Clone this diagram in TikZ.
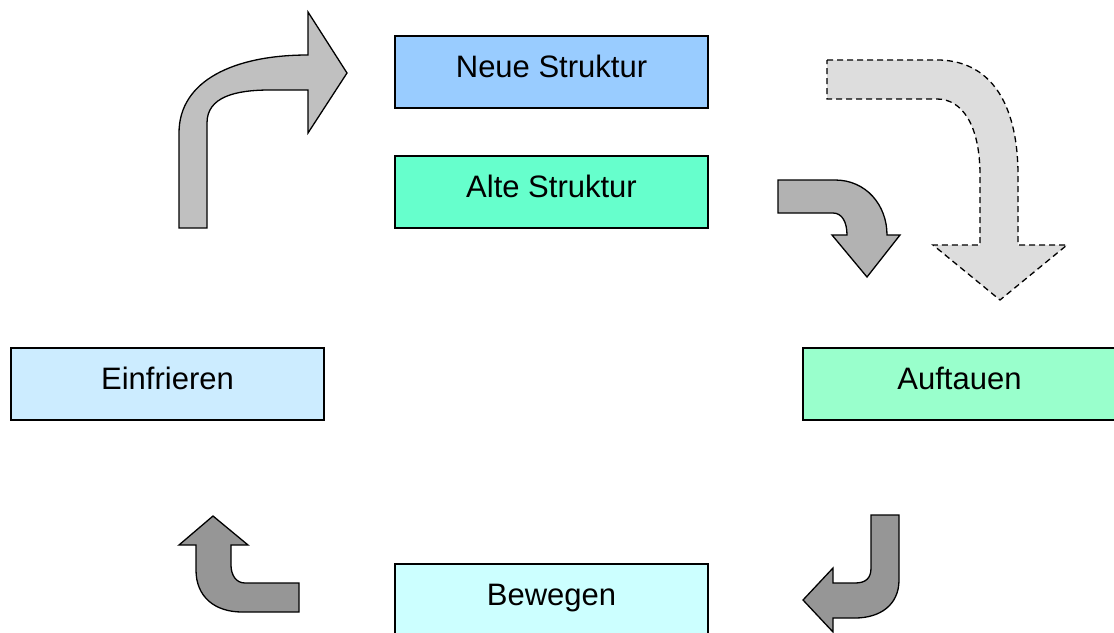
\documentclass[tikz,border=0pt]{standalone}
\usepackage{fontspec}
\setmainfont{Liberation Sans}
\definecolor{neue}{HTML}{99CCFF}
\definecolor{alte}{HTML}{66FFCC}
\definecolor{einfr}{HTML}{CCECFF}
\definecolor{auft}{HTML}{99FFCC}
\definecolor{beweg}{HTML}{CCFFFF}
\definecolor{arrowA}{HTML}{C0C0C0}
\definecolor{arrowB}{HTML}{B2B2B2}
\definecolor{arrowC}{HTML}{DDDDDD}
\definecolor{arrowD}{HTML}{969696}
\tikzset{
  phase/.style={draw=black, line width=1.3pt, minimum width=313pt, minimum height=72pt,
    inner sep=0pt, text height=22pt, text depth=12pt,
    font=\fontsize{31}{36}\selectfont},
  bent/.style={draw=black, line width=1.3pt, line join=miter},
}
\begin{document}
\begin{tikzpicture}[x=1pt, y=-1pt]
\useasboundingbox (0,0) rectangle (1114,632);
\clip (0,0) rectangle (1114,632);
\fill[white] (0,0) rectangle (1114,632);

% phase boxes
\node[phase, fill=neue]  (neue)  at (551.5,72)  {Neue Struktur};
\node[phase, fill=alte]  (alte)  at (551.5,192) {Alte Struktur};
\node[phase, fill=einfr] (einfr) at (167.5,384) {Einfrieren};
\node[phase, fill=auft]  (auft)  at (959.5,384) {Auftauen};
\node[phase, fill=beweg] (beweg) at (551.5,600) {Bewegen};

% bent arrow: up and to the right
\path[bent, fill=arrowA]
  (179,228) -- (179,133) .. controls (179,80) and (235,55) .. (308,55)
  -- (308,12) -- (347,73) -- (308,133) -- (308,90) -- (270,90)
  .. controls (235,90) and (207,97) .. (207,123) -- (207,228) -- cycle;

% small bent arrow: right then down
\path[bent, fill=arrowB]
  (778,180) -- (835,180) .. controls (866,180) and (887,205) .. (887,235)
  -- (900,235) -- (867,277) -- (832,235) -- (847,235)
  .. controls (847,222) and (842,213) .. (833,213) -- (778,213) -- cycle;

% large dashed bent arrow: right then down
\path[bent, fill=arrowC, dashed, dash pattern=on 6pt off 4pt]
  (827,60) -- (940,60) .. controls (995,62) and (1018,110) .. (1018,175)
  -- (1018,245) -- (1067,245) -- (1000,300) -- (933,245) -- (980,245)
  -- (980,175) .. controls (980,125) and (962,99) .. (937,99) -- (827,99) -- cycle;

% bent arrow: down then left
\path[bent, fill=arrowD]
  (871,515) -- (899,515) -- (899,580) .. controls (899,605) and (880,618) .. (855,618)
  -- (833,618) -- (833,632) -- (803,600) -- (833,568) -- (833,583) -- (855,583)
  .. controls (866,583) and (871,578) .. (871,568) -- cycle;

% bent arrow: left then up
\path[bent, fill=arrowD]
  (299,583) -- (245,583) .. controls (236,583) and (231,575) .. (231,565)
  -- (231,545) -- (248,545) -- (213,516) -- (179,545) -- (196,545)
  -- (196,570) .. controls (196,597) and (215,612) .. (242,612) -- (299,612) -- cycle;
\end{tikzpicture}
\end{document}
